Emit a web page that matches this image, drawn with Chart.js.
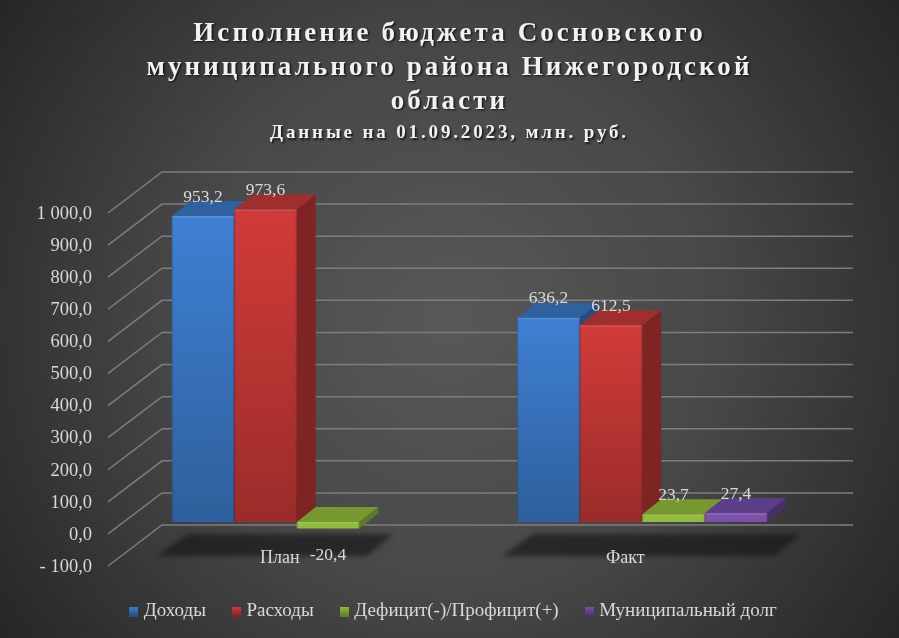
<!DOCTYPE html>
<html>
<head>
<meta charset="utf-8">
<style>
  html, body { margin: 0; padding: 0; background: #333; }
  canvas { display: block; }
</style>
<script src="https://cdn.jsdelivr.net/npm/chart.js@4/dist/chart.umd.min.js"></script>
</head>
<body>
<canvas id="chart" width="899" height="638"></canvas>
<script>
const titleLines = ['Исполнение бюджета Сосновского', 'муниципального района Нижегородской', 'области'];
const subtitleLine = 'Данные на 01.09.2023, млн. руб.';
const categories = ['План', 'Факт'];
const seriesNames = ['Доходы', 'Расходы', 'Дефицит(-)/Профицит(+)', 'Муниципальный долг'];
const incomeValues = [953.2, 636.2];
const expenseValues = [973.6, 612.5];
const balanceValues = [-20.4, 23.7];
const debtValues = [null, 27.4];
const yTickLabels = ['- 100,0', '0,0', '100,0', '200,0', '300,0', '400,0', '500,0', '600,0', '700,0', '800,0', '900,0', '1 000,0'];

const frontColors = ['#3e80d2', '#d03b38', '#93be3f', '#7d52ac'];
const topColors = ['#2f619f', '#a02e2c', '#77972f', '#5b3e87'];
const sideColors = ['#244c7e', '#7e2422', '#5f7a26', '#463068'];
const textColor = '#d9d9d9';
const serif = '"Liberation Serif", serif';

// depth of the fake 3D, px
const barDepth = { x: 19, y: -15 };
const wallShift = { x: 38, y: -29 };
const frontShift = { x: -16, y: 12 };

function valueText(v) {
    return v.toFixed(1).replace('.', ',');
}

function legendSwatch(i) {
    const c = document.createElement('canvas');
    c.width = 9;
    c.height = 10;
    const g = c.getContext('2d');
    const grad = g.createLinearGradient(0, 0, 0, 10);
    grad.addColorStop(0, frontColors[i]);
    grad.addColorStop(1, sideColors[i]);
    g.fillStyle = grad;
    g.fillRect(0, 0, 9, 10);
    return c;
}

function poly(ctx, pts, fill) {
    ctx.fillStyle = fill;
    ctx.beginPath();
    pts.forEach((p, i) => i ? ctx.lineTo(p[0], p[1]) : ctx.moveTo(p[0], p[1]));
    ctx.closePath();
    ctx.fill();
}

const backdrop = {
    id: 'backdrop',
    afterLayout(chart) {
        // reference legend sits a little right of centre
        chart.legend.left += 5.5;
        chart.legend.right += 5.5;
        // category labels overlap the plot, scale clips them to its own box
        chart.scales.x.top -= 10;
    },
    beforeDraw(chart) {
        const { ctx, width, height } = chart;
        const g = ctx.createRadialGradient(width / 2, height / 2, 0, width / 2, height / 2, 550);
        g.addColorStop(0, '#585858');
        g.addColorStop(0.5, '#474747');
        g.addColorStop(1, '#262626');
        ctx.save();
        ctx.fillStyle = g;
        ctx.fillRect(0, 0, width, height);
        ctx.restore();
        // canvas letter spacing for the two headings
        chart.boxes.forEach(box => {
            if (box._spaced || !box.options || box.options.text === undefined) return;
            const spacing = box.options.text === subtitleLine ? '2.85px' : '3.1px';
            const draw = box.draw.bind(box);
            box.draw = area => {
                ctx.save();
                ctx.letterSpacing = spacing;
                ctx.shadowColor = 'rgba(0,0,0,0.7)';
                ctx.shadowBlur = 2;
                ctx.shadowOffsetX = 1.5;
                ctx.shadowOffsetY = 1.5;
                draw(area);
                ctx.restore();
            };
            box._spaced = true;
        });
    }
};

const walls = {
    id: 'walls',
    beforeDatasetsDraw(chart) {
        const { ctx, chartArea } = chart;
        const y = chart.scales.y;
        ctx.save();
        ctx.strokeStyle = '#7d7d7d';
        ctx.lineWidth = 1.5;
        y.ticks.forEach(t => {
            const py = y.getPixelForValue(t.value);
            ctx.beginPath();
            ctx.moveTo(chartArea.left + frontShift.x, py + frontShift.y);
            ctx.lineTo(chartArea.left + wallShift.x, py + wallShift.y);
            ctx.lineTo(chartArea.right + wallShift.x, py + wallShift.y);
            ctx.stroke();
        });

        // soft shadow on the floor under each group
        const metas = chart.getSortedVisibleDatasetMetas();
        const zero = y.getPixelForValue(0);
        ctx.filter = 'blur(2.5px)';
        categories.forEach((c, i) => {
            const bars = metas.map(m => m.data[i]).filter((b, k) => chart.data.datasets[metas[k].index].data[i] !== null);
            const l = bars[0].x - bars[0].width / 2;
            const r = bars[bars.length - 1].x + bars[bars.length - 1].width / 2;
            poly(ctx, [[l + 16, zero + 12], [r + 34, zero + 12], [r + 8, zero + 34], [l - 15, zero + 34]], 'rgba(20,20,20,0.62)');
        });
        ctx.restore();

        // own loop so later series sit in front of earlier ones
        metas.forEach(meta => {
            const i = meta.index;
            meta.data.forEach((bar, k) => {
                if (chart.data.datasets[i].data[k] === null) return;
                const l = bar.x - bar.width / 2, r = bar.x + bar.width / 2;
                const top = Math.min(bar.y, bar.base), bottom = Math.max(bar.y, bar.base);
                const dx = barDepth.x, dy = barDepth.y;
                poly(ctx, [[r, top], [r + dx, top + dy], [r + dx, bottom + dy], [r, bottom]], sideColors[i]);
                poly(ctx, [[l, top], [l + dx, top + dy], [r + dx, top + dy], [r, top]], topColors[i]);
            });
            meta.controller.draw();
            meta.data.forEach((bar, k) => {
                if (chart.data.datasets[i].data[k] === null) return;
                const l = bar.x - bar.width / 2;
                const top = Math.min(bar.y, bar.base), bottom = Math.max(bar.y, bar.base);
                const h = bottom - top;
                const g = ctx.createLinearGradient(0, top, 0, bottom);
                g.addColorStop(0, 'rgba(0,0,0,0)');
                g.addColorStop(1, 'rgba(0,0,0,' + 0.26 * Math.min(1, h / 100) + ')');
                ctx.save();
                ctx.fillStyle = g;
                ctx.fillRect(l, top, bar.width, h);
                // small bevel along the edges
                ctx.fillStyle = 'rgba(255,255,255,0.12)';
                ctx.fillRect(l, top, bar.width, 1.5);
                ctx.fillStyle = 'rgba(0,0,0,0.18)';
                ctx.fillRect(l, top, 1, h);
                ctx.fillRect(l + bar.width - 1, top, 1, h);
                ctx.restore();
            });
        });
    },
    beforeDatasetDraw() {
        return false;
    },
    afterDatasetsDraw(chart) {
        const { ctx } = chart;
        ctx.save();
        ctx.fillStyle = textColor;
        ctx.font = '17.5px ' + serif;
        ctx.textAlign = 'center';
        ctx.textBaseline = 'middle';
        chart.getSortedVisibleDatasetMetas().forEach(meta => {
            meta.data.forEach((bar, k) => {
                const v = chart.data.datasets[meta.index].data[k];
                if (v === null) return;
                ctx.fillText(valueText(v), bar.x, v < 0 ? bar.y + 27 : bar.y - 19);
            });
        });
        ctx.restore();
    }
};

const seriesLists = [incomeValues, expenseValues, balanceValues, debtValues];

new Chart(document.getElementById('chart'), {
    type: 'bar',
    data: {
        labels: categories,
        datasets: seriesNames.map((name, i) => ({
            label: name,
            data: seriesLists[i],
            backgroundColor: frontColors[i],
            borderWidth: 0
        }))
    },
    plugins: [backdrop, walls],
    options: {
        responsive: false,
        animation: false,
        barPercentage: 1,
        categoryPercentage: 0.7236,
        layout: { padding: { top: 0, left: 0, right: 0, bottom: 7 } },
        scales: {
            x: {
                grid: { display: false },
                border: { display: false },
                ticks: {
                    color: textColor,
                    font: { family: serif, size: 18 },
                    padding: -5,
                    labelOffset: -17,
                    maxRotation: 0,
                    z: 1
                },
                afterFit(scale) { scale.height = 18; }
            },
            y: {
                min: -100,
                max: 1000,
                grid: { display: false },
                border: { display: false },
                ticks: {
                    stepSize: 100,
                    color: textColor,
                    font: { family: serif, size: 18.5 },
                    padding: 24,
                    labelOffset: 13,
                    callback: (v, i) => yTickLabels[i]
                },
                afterFit(scale) { scale.width = 124; }
            },
            spare: {
                position: 'right',
                grid: { display: false },
                border: { display: false },
                ticks: { display: false },
                afterFit(scale) { scale.width = 84; }
            }
        },
        plugins: {
            tooltip: { enabled: false },
            title: {
                display: true,
                text: titleLines,
                color: '#f2f2f2',
                font: { family: serif, size: 27, weight: 'bold', lineHeight: 34 / 27 },
                padding: { top: 17, bottom: 3 }
            },
            subtitle: {
                display: true,
                text: subtitleLine,
                color: '#f2f2f2',
                font: { family: serif, size: 19, weight: 'bold', lineHeight: 1.2 },
                padding: { top: 0, bottom: 56.2 }
            },
            legend: {
                position: 'bottom',
                labels: {
                    color: textColor,
                    font: { family: serif, size: 19 },
                    usePointStyle: true,
                    boxWidth: 1,
                    boxHeight: 10,
                    padding: 30,
                    generateLabels(chart) {
                        return Chart.defaults.plugins.legend.labels.generateLabels(chart).map((item, i) => {
                            item.pointStyle = legendSwatch(i);
                            return item;
                        });
                    }
                }
            }
        }
    }
});
</script>
</body>
</html>
